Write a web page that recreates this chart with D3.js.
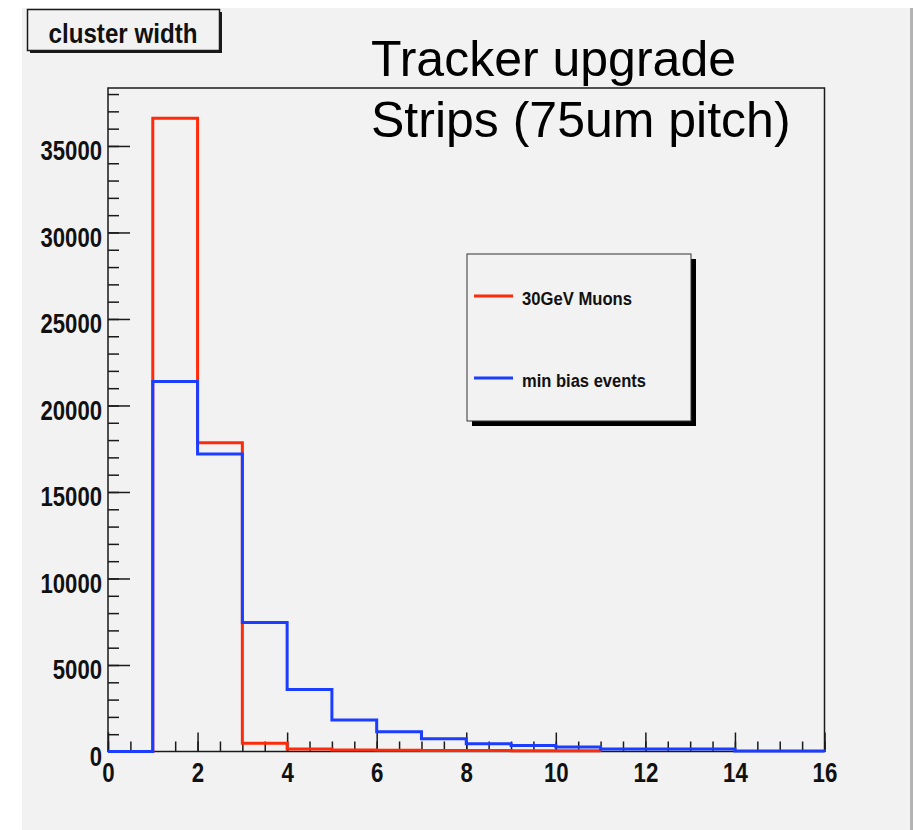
<!DOCTYPE html>
<html>
<head>
<meta charset="utf-8">
<script src="https://cdn.jsdelivr.net/npm/d3@7"></script>
<style>
  body { margin: 0; background: #ffffff; }
  svg { display: block; }
  text { font-family: "Liberation Sans", Arial, Helvetica, sans-serif; }
</style>
</head>
<body>
<svg id="chart" width="914" height="830"></svg>
<script>
// bin lower edges are 0,1,2,... (width 1)
var muonCounts = [0, 36600, 17850, 470, 145, 90, 70, 60, 55, 50, 45];
var minBiasCounts = [0, 21380, 17200, 7450, 3580, 1820, 1140, 730, 450, 350, 260, 145, 145, 145, 30, 30];
var seriesNames = ["30GeV Muons", "min bias events"];
var seriesColors = ["#ff2a0a", "#1a3dff"];
var yTicks = [0, 5000, 10000, 15000, 20000, 25000, 30000, 35000];
var xTicks = [0, 2, 4, 6, 8, 10, 12, 14, 16];
var titleText = "cluster width";
var noteLines = ["Tracker upgrade", "Strips (75um pitch)"];

var svg = d3.select("#chart");
var frame = { left: 108, right: 824.5, top: 88, bottom: 751.5 };

var xScale = d3.scaleLinear().domain([0, 16]).range([frame.left, frame.right]);
var yScale = d3.scaleLinear().domain([0, 38350]).range([frame.bottom, frame.top]);

// canvas
svg.append("rect")
    .attr("x", 22).attr("y", 8)
    .attr("width", 888).attr("height", 822)
    .attr("fill", "#f2f2f2");
svg.append("rect")
    .attr("x", 910).attr("y", 8)
    .attr("width", 3).attr("height", 822)
    .attr("fill", "#b4b4b4");

// frame
svg.append("rect")
    .attr("x", frame.left).attr("y", frame.top)
    .attr("width", frame.right - frame.left)
    .attr("height", frame.bottom - frame.top)
    .attr("fill", "none")
    .attr("stroke", "#1a1a1a")
    .attr("stroke-width", 1.5);

function squeeze(sel, perChar) {
    sel.attr("textLength", function () {
        return this.textContent.length * perChar;
    }).attr("lengthAdjust", "spacingAndGlyphs");
}

// y axis, ticks point into the frame
var yMinor = d3.axisLeft(yScale)
    .tickValues(d3.range(0, 38001, 1000))
    .tickSize(-11)
    .tickFormat("");
var yMajor = d3.axisLeft(yScale)
    .tickValues(yTicks)
    .tickSize(-22)
    .tickPadding(6)
    .tickFormat(d3.format("d"));

var gy1 = svg.append("g").attr("transform", "translate(" + frame.left + ",0)").call(yMinor);
var gy2 = svg.append("g").attr("transform", "translate(" + frame.left + ",0)").call(yMajor);

// x axis
var xMinor = d3.axisBottom(xScale)
    .tickValues(d3.range(0, 16.01, 0.5))
    .tickSize(-10)
    .tickFormat("");
var xMajor = d3.axisBottom(xScale)
    .tickValues(xTicks)
    .tickSize(-19)
    .tickPadding(11)
    .tickFormat(d3.format("d"));

var gx1 = svg.append("g").attr("transform", "translate(0," + frame.bottom + ")").call(xMinor);
var gx2 = svg.append("g").attr("transform", "translate(0," + frame.bottom + ")").call(xMajor);

[gy1, gy2, gx1, gx2].forEach(function (g) {
    g.select(".domain").remove();
    g.selectAll(".tick line").attr("stroke", "#1a1a1a").attr("stroke-width", 1.5);
    g.selectAll(".tick text")
        .attr("fill", "#111")
        .style("font-size", "28px")
        .style("font-weight", "bold");
});
gy2.selectAll(".tick text").attr("dy", "0.5em").call(squeeze, 12.3);
gx2.selectAll(".tick text").call(squeeze, 12.4);

// histograms as step lines
function stepPoints(counts) {
    var pts = counts.map(function (c, i) { return { x: i, y: c }; });
    pts.push({ x: counts.length, y: counts[counts.length - 1] });
    pts.push({ x: counts.length, y: 0 });
    return pts;
}

var line = d3.line()
    .x(function (d) { return xScale(d.x); })
    .y(function (d) { return yScale(d.y); })
    .curve(d3.curveStepAfter);

[muonCounts, minBiasCounts].forEach(function (counts, i) {
    svg.append("path")
        .datum(stepPoints(counts))
        .attr("d", line)
        .attr("fill", "none")
        .attr("stroke", seriesColors[i])
        .attr("stroke-width", 3)
        .attr("stroke-linejoin", "miter");
});

// title box
svg.append("rect")
    .attr("x", 30).attr("y", 12).attr("width", 192).attr("height", 41)
    .attr("fill", "#1a1a1a");
svg.append("rect")
    .attr("x", 27.5).attr("y", 9.5).attr("width", 192).attr("height", 41)
    .attr("fill", "#f2f2f2")
    .attr("stroke", "#1a1a1a")
    .attr("stroke-width", 1.5);
svg.append("text")
    .attr("x", 123).attr("y", 43)
    .attr("text-anchor", "middle")
    .style("font-size", "27px")
    .style("font-weight", "bold")
    .attr("fill", "#111")
    .attr("textLength", 149)
    .attr("lengthAdjust", "spacingAndGlyphs")
    .text(titleText);

// note text
svg.selectAll(".note")
    .data(noteLines)
    .enter().append("text")
    .attr("class", "note")
    .attr("x", 371)
    .attr("y", function (d, i) { return 76 + i * 61; })
    .style("font-size", "50px")
    .attr("fill", "#000")
    .text(function (d) { return d; });

// legend
var legend = svg.append("g").attr("transform", "translate(467,254)");
legend.append("rect")
    .attr("x", 5).attr("y", 5).attr("width", 224).attr("height", 167)
    .attr("fill", "#000");
legend.append("rect")
    .attr("x", 0).attr("y", 0).attr("width", 224).attr("height", 167)
    .attr("fill", "#f2f2f2")
    .attr("stroke", "#333")
    .attr("stroke-width", 1);

var legendLengths = [110, 124];
seriesNames.forEach(function (name, i) {
    var yy = 42 + i * 82;
    legend.append("line")
        .attr("x1", 7).attr("x2", 46)
        .attr("y1", yy).attr("y2", yy)
        .attr("stroke", seriesColors[i])
        .attr("stroke-width", 3);
    legend.append("text")
        .attr("x", 55).attr("y", yy + 9)
        .style("font-size", "18px")
        .style("font-weight", "bold")
        .attr("fill", "#111")
        .attr("textLength", legendLengths[i])
        .attr("lengthAdjust", "spacingAndGlyphs")
        .text(name);
});
</script>
</body>
</html>
